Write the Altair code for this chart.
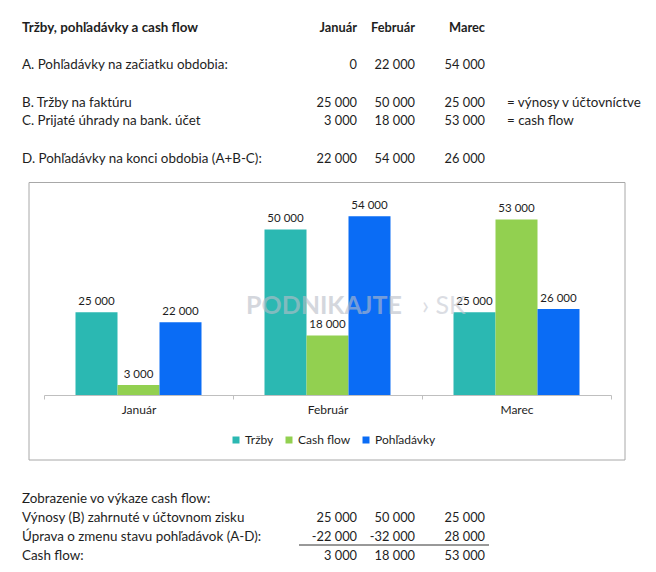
import altair as alt
import pandas as pd

FONT = "Lato"
TXT = "#1e1e1e"

# ---- data ----
months = ["Január", "Február", "Marec"]
series = ["Tržby", "Cash flow", "Pohľadávky"]
trzby = [25000, 50000, 25000]
cashflow = [3000, 18000, 53000]
pohladavky = [22000, 54000, 26000]
colors = ["#2bb8b2", "#92d050", "#0a6cf5"]

top_labels = ["Tržby, pohľadávky a cash flow", "A. Pohľadávky na začiatku obdobia:",
              "B. Tržby na faktúru", "C. Prijaté úhrady na bank. účet",
              "D. Pohľadávky na konci obdobia (A+B-C):"]
top_line = [0, 2, 4, 5, 7]
top_jan = ["Január", "0", "25 000", "3 000", "22 000"]
top_feb = ["Február", "22 000", "50 000", "18 000", "54 000"]
top_mar = ["Marec", "54 000", "25 000", "53 000", "26 000"]
top_notes = ["", "", "= výnosy v účtovníctve", "= cash flow", ""]
top_bold = [True, False, False, False, False]

bot_labels = ["Zobrazenie vo výkaze cash flow:", "Výnosy (B) zahrnuté v účtovnom zisku",
              "Úprava o zmenu stavu pohľadávok (A-D):", "Cash flow:"]
bot_line = [0, 1, 2, 3]
bot_jan = ["", "25 000", "-22 000", "3 000"]
bot_feb = ["", "50 000", "-32 000", "18 000"]
bot_mar = ["", "25 000", "28 000", "53 000"]
bot_notes = ["", "", "", ""]
bot_bold = [False, False, False, False]

LBL_SIZE = 13.4
NUM_SIZE = 12.8


def table(labels, lines, jan, feb, mar, notes, bold, yrange, height):
    df = pd.DataFrame({"label": labels, "line": lines, "jan": jan, "feb": feb,
                       "mar": mar, "note": notes, "bold": bold})
    base = alt.Chart(df)
    y = alt.Y("line:Q", scale=alt.Scale(domain=[0, max(lines)], range=yrange,
                                        nice=False, zero=False), axis=None)
    layers = []
    for weight, flt in (("bold", "datum.bold"), ("normal", "!datum.bold")):
        b = base.transform_filter(flt)
        layers.append(b.mark_text(align="left", baseline="middle", font=FONT,
                                  fontSize=LBL_SIZE, fontWeight=weight, color=TXT)
                      .encode(x=alt.value(14), y=y, text="label:N"))
        for field, xr in (("jan", 349), ("feb", 407), ("mar", 477)):
            layers.append(b.mark_text(align="right", baseline="middle", font=FONT,
                                      fontSize=NUM_SIZE, fontWeight=weight, color=TXT)
                          .encode(x=alt.value(xr), y=y, text=f"{field}:N"))
        layers.append(b.mark_text(align="left", baseline="middle", font=FONT,
                                  fontSize=LBL_SIZE, fontWeight=weight, color=TXT)
                      .encode(x=alt.value(499), y=y, text="note:N"))
    return alt.layer(*layers).properties(width=640, height=height)


top = table(top_labels, top_line, top_jan, top_feb, top_mar, top_notes, top_bold,
            [20, 150.5], 174)

bot_tab = table(bot_labels, bot_line, bot_jan, bot_feb, bot_mar, bot_notes, bot_bold,
                [37.5, 94.5], 103)
sep = alt.Chart(alt.Data(values=[{"a": 1}])).mark_rule(color="#333333", strokeWidth=1).encode(
    x=alt.value(291), x2=alt.value(481), y=alt.value(84))
bot = alt.layer(bot_tab, sep).properties(width=640, height=103)

# ---- bar chart ----
rows = []
for i, m in enumerate(months):
    for s, vals in zip(series, [trzby, cashflow, pohladavky]):
        rows.append({"month": m, "series": s, "value": vals[i],
                     "lbl": f"{vals[i]:,}".replace(",", " ")})
bdf = pd.DataFrame(rows)

xenc = alt.X("month:N", sort=months,
             scale=alt.Scale(domain=months, range=[36, 603], paddingInner=0, paddingOuter=0),
             axis=alt.Axis(title=None, labelAngle=0, offset=-66, domainColor="#bfbfbf",
                           tickColor="#bfbfbf", tickSize=4, tickBand="extent",
                           labelFont=FONT, labelFontSize=12, labelColor=TXT, labelPadding=5,
                           grid=False))
xoff = alt.XOffset("series:N", sort=series,
                   scale=alt.Scale(domain=series, paddingInner=0, paddingOuter=0.75))
yenc = alt.Y("value:Q", scale=alt.Scale(domain=[0, 60000], range=[213, 14.3], nice=False),
             axis=None)

frame = alt.Chart(alt.Data(values=[{"a": 1}])).mark_rect(
    filled=False, stroke="#a8a8a8", strokeWidth=1).encode(
    x=alt.value(21), x2=alt.value(617), y=alt.value(0.5), y2=alt.value(278))

wm1 = alt.Chart(alt.Data(values=[{"t": "PODNIKAJTE"}])).mark_text(
    align="left", baseline="middle", font=FONT, fontSize=25, fontWeight="bold",
    color="#b9bdc8", opacity=0.6).encode(x=alt.value(238), y=alt.value(124), text="t:N")
wm2 = alt.Chart(alt.Data(values=[{"t": "› SK"}])).mark_text(
    align="left", baseline="middle", font=FONT, fontSize=25, fontWeight="normal",
    color="#c4c8d1", opacity=0.6).encode(x=alt.value(414), y=alt.value(124), text="t:N")

bars = alt.Chart(bdf).mark_bar().encode(
    x=xenc, xOffset=xoff, y=yenc,
    color=alt.Color("series:N", sort=series, scale=alt.Scale(domain=series, range=colors),
                    legend=alt.Legend(title=None, orient="none", direction="horizontal",
                                      legendX=222, legendY=426, symbolType="square",
                                      symbolSize=49, symbolStrokeWidth=0, labelFont=FONT,
                                      labelFontSize=12, labelColor=TXT, labelOffset=3,
                                      columnPadding=9)))
labels = alt.Chart(bdf).mark_text(baseline="bottom", dy=-5, font=FONT, fontSize=11.5,
                                  color=TXT).encode(
    x=xenc, xOffset=xoff, y=yenc, text="lbl:N")

mid = alt.layer(frame, bars, labels, wm1, wm2).properties(width=640, height=279)

chart = alt.vconcat(top, mid, bot, spacing=0, bounds="flush").properties(
    padding=0).configure_view(stroke=None)

chart.save("out.html", embed_options={"renderer": "svg", "actions": False})
